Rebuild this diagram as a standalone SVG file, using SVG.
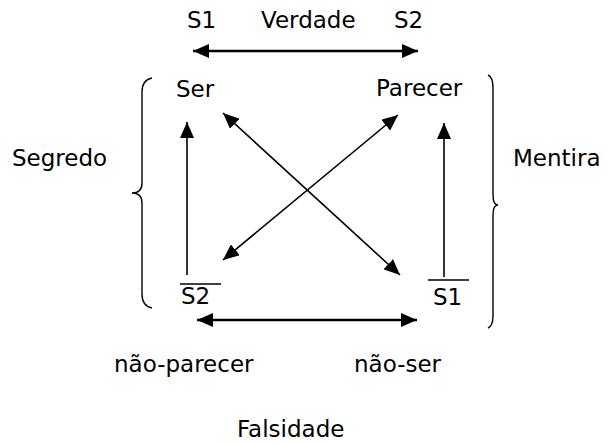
<svg xmlns="http://www.w3.org/2000/svg" width="607" height="443" viewBox="0 0 607 443">
<style>
text{font-family:"DejaVu Sans","Verdana",sans-serif;font-size:23px;fill:#000}
.ln{stroke:#000;stroke-width:1.6;fill:none}
.thick{stroke:#000;stroke-width:2.6;fill:none}
.br{stroke:#000;stroke-width:1.4;fill:none}
</style>
<defs>
<marker id="ah" viewBox="0 0 16 14" refX="16" refY="7" markerWidth="16" markerHeight="14" markerUnits="userSpaceOnUse" orient="auto-start-reverse">
<path d="M0,0 L16,7 L0,14 Z" fill="#000"/>
</marker>
</defs>
<rect width="607" height="443" fill="#fff"/>
<g id="labels-top">
<text x="187" y="28">S1</text>
<text x="261" y="28">Verdade</text>
<text x="394" y="28">S2</text>
</g>
<g id="node-ser"><text x="176" y="97">Ser</text></g>
<g id="node-parecer"><text x="376" y="96">Parecer</text></g>
<g id="node-s2bar"><line class="ln" x1="180" y1="284" x2="221" y2="284"/><text x="181" y="304">S2</text></g>
<g id="node-s1bar"><line class="ln" x1="428" y1="280" x2="469" y2="280"/><text x="433" y="305">S1</text></g>
<g id="label-segredo"><text x="12" y="166">Segredo</text></g>
<g id="label-mentira"><text x="513" y="166">Mentira</text></g>
<g id="label-naoparecer"><text x="114" y="372">não-parecer</text></g>
<g id="label-naoser"><text x="354" y="372">não-ser</text></g>
<g id="label-falsidade"><text x="237" y="437">Falsidade</text></g>
<g id="braces">
<path class="br" d="M152,78 Q142,80 142,92 L142,183 Q142,193 132,193 Q142,193 142,203 L142,294 Q142,306 152,308"/>
<path class="br" d="M488,75 Q493,77 493,88 L493,195 Q493,205 498,205 Q493,205 493,215 L493,316 Q493,326 488,328"/>
</g>
<g id="connectors">
<line class="thick" x1="193" y1="51" x2="418" y2="51" marker-start="url(#ah)" marker-end="url(#ah)"/>
<line class="thick" x1="197" y1="320" x2="417" y2="320" marker-start="url(#ah)" marker-end="url(#ah)"/>
<line class="ln" x1="187" y1="275" x2="187" y2="122" marker-end="url(#ah)"/>
<line class="ln" x1="444" y1="277" x2="444" y2="123" marker-end="url(#ah)"/>
<line class="ln" x1="223" y1="113" x2="400" y2="275" marker-start="url(#ah)" marker-end="url(#ah)"/>
<line class="ln" x1="398" y1="115" x2="223" y2="260" marker-start="url(#ah)" marker-end="url(#ah)"/>
</g>
</svg>
